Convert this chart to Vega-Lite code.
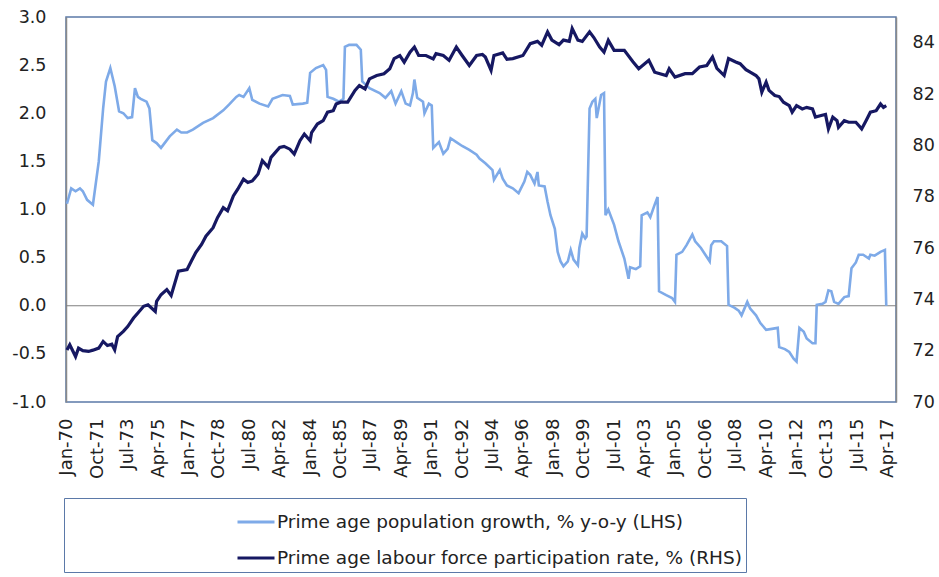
{
  "$schema": "https://vega.github.io/schema/vega-lite/v6.json",
  "width": 830,
  "height": 385,
  "autosize": {"type": "none"},
  "padding": {"left": 66, "top": 17, "right": 43, "bottom": 175},
  "background": "white",
  "config": {
    "view": {"stroke": "#5b79a8", "strokeWidth": 1.5},
    "axis": {"labelFont": "DejaVu Sans", "labelColor": "#222222", "ticks": false, "grid": false, "title": null},
    "legend": {"labelFont": "DejaVu Sans", "labelColor": "#222222"}
  },
  "datasets": {
    "pop": [
      {"date": "1970-01-01", "v": 1.06}, {"date": "1970-04-01", "v": 1.22}, {"date": "1970-07-01", "v": 1.19}, {"date": "1970-10-01", "v": 1.22},
      {"date": "1970-12-01", "v": 1.19}, {"date": "1971-03-01", "v": 1.10}, {"date": "1971-07-01", "v": 1.05}, {"date": "1971-11-01", "v": 1.50},
      {"date": "1972-02-01", "v": 2.05}, {"date": "1972-04-01", "v": 2.33}, {"date": "1972-07-01", "v": 2.47}, {"date": "1972-10-01", "v": 2.28},
      {"date": "1973-01-01", "v": 2.02}, {"date": "1973-04-01", "v": 2.00}, {"date": "1973-07-01", "v": 1.95}, {"date": "1973-10-01", "v": 1.96},
      {"date": "1973-12-01", "v": 2.26}, {"date": "1974-02-01", "v": 2.17}, {"date": "1974-04-01", "v": 2.15}, {"date": "1974-08-01", "v": 2.12},
      {"date": "1974-10-01", "v": 2.05}, {"date": "1974-12-01", "v": 1.72}, {"date": "1975-03-01", "v": 1.69}, {"date": "1975-06-01", "v": 1.64},
      {"date": "1975-09-01", "v": 1.70}, {"date": "1975-12-01", "v": 1.76}, {"date": "1976-05-01", "v": 1.83}, {"date": "1976-08-01", "v": 1.80},
      {"date": "1976-12-01", "v": 1.80}, {"date": "1977-04-01", "v": 1.83}, {"date": "1977-11-01", "v": 1.90}, {"date": "1978-06-01", "v": 1.95},
      {"date": "1979-01-01", "v": 2.03}, {"date": "1979-05-01", "v": 2.09}, {"date": "1979-10-01", "v": 2.17}, {"date": "1979-12-01", "v": 2.19},
      {"date": "1980-03-01", "v": 2.17}, {"date": "1980-07-01", "v": 2.26}, {"date": "1980-09-01", "v": 2.14}, {"date": "1981-02-01", "v": 2.10},
      {"date": "1981-08-01", "v": 2.07}, {"date": "1981-11-01", "v": 2.15}, {"date": "1982-06-01", "v": 2.19}, {"date": "1982-11-01", "v": 2.18},
      {"date": "1983-01-01", "v": 2.09}, {"date": "1983-08-01", "v": 2.10}, {"date": "1983-11-01", "v": 2.11}, {"date": "1984-01-01", "v": 2.42},
      {"date": "1984-05-01", "v": 2.47}, {"date": "1984-10-01", "v": 2.50}, {"date": "1984-12-01", "v": 2.45}, {"date": "1985-01-01", "v": 2.17},
      {"date": "1985-05-01", "v": 2.15}, {"date": "1985-09-01", "v": 2.12}, {"date": "1985-12-01", "v": 2.15}, {"date": "1986-01-01", "v": 2.69},
      {"date": "1986-04-01", "v": 2.71}, {"date": "1986-09-01", "v": 2.71}, {"date": "1986-12-01", "v": 2.66}, {"date": "1987-01-01", "v": 2.33},
      {"date": "1987-06-01", "v": 2.26}, {"date": "1988-01-01", "v": 2.21}, {"date": "1988-05-01", "v": 2.16}, {"date": "1988-09-01", "v": 2.23},
      {"date": "1988-12-01", "v": 2.10}, {"date": "1989-04-01", "v": 2.23}, {"date": "1989-07-01", "v": 2.10}, {"date": "1989-10-01", "v": 2.08},
      {"date": "1989-12-01", "v": 2.21}, {"date": "1990-01-01", "v": 2.35}, {"date": "1990-03-01", "v": 2.16}, {"date": "1990-07-01", "v": 2.12},
      {"date": "1990-08-01", "v": 2.00}, {"date": "1990-11-01", "v": 2.10}, {"date": "1991-01-01", "v": 2.08}, {"date": "1991-02-01", "v": 1.64},
      {"date": "1991-06-01", "v": 1.70}, {"date": "1991-09-01", "v": 1.58}, {"date": "1991-12-01", "v": 1.63}, {"date": "1992-02-01", "v": 1.74},
      {"date": "1992-06-01", "v": 1.70}, {"date": "1992-10-01", "v": 1.66}, {"date": "1993-03-01", "v": 1.62}, {"date": "1993-08-01", "v": 1.57},
      {"date": "1993-10-01", "v": 1.53}, {"date": "1994-02-01", "v": 1.48}, {"date": "1994-07-01", "v": 1.41}, {"date": "1994-08-01", "v": 1.31},
      {"date": "1994-12-01", "v": 1.41}, {"date": "1995-02-01", "v": 1.32}, {"date": "1995-05-01", "v": 1.25}, {"date": "1995-09-01", "v": 1.22},
      {"date": "1996-01-01", "v": 1.17}, {"date": "1996-05-01", "v": 1.29}, {"date": "1996-07-01", "v": 1.39}, {"date": "1996-09-01", "v": 1.36},
      {"date": "1996-12-01", "v": 1.27}, {"date": "1997-02-01", "v": 1.39}, {"date": "1997-03-01", "v": 1.25}, {"date": "1997-07-01", "v": 1.24},
      {"date": "1997-09-01", "v": 1.08}, {"date": "1997-11-01", "v": 0.94}, {"date": "1998-02-01", "v": 0.80}, {"date": "1998-04-01", "v": 0.56},
      {"date": "1998-06-01", "v": 0.46}, {"date": "1998-08-01", "v": 0.41}, {"date": "1998-11-01", "v": 0.46}, {"date": "1999-01-01", "v": 0.58},
      {"date": "1999-03-01", "v": 0.48}, {"date": "1999-06-01", "v": 0.42}, {"date": "1999-07-01", "v": 0.60}, {"date": "1999-09-01", "v": 0.75},
      {"date": "1999-11-01", "v": 0.70}, {"date": "1999-12-01", "v": 0.72}, {"date": "2000-02-01", "v": 2.05}, {"date": "2000-04-01", "v": 2.12},
      {"date": "2000-06-01", "v": 2.15}, {"date": "2000-07-01", "v": 1.95}, {"date": "2000-10-01", "v": 2.19}, {"date": "2000-12-01", "v": 2.21},
      {"date": "2001-01-01", "v": 0.94}, {"date": "2001-03-01", "v": 1.00}, {"date": "2001-07-01", "v": 0.84}, {"date": "2001-10-01", "v": 0.67},
      {"date": "2002-02-01", "v": 0.49}, {"date": "2002-05-01", "v": 0.28}, {"date": "2002-06-01", "v": 0.40}, {"date": "2002-10-01", "v": 0.38},
      {"date": "2003-01-01", "v": 0.41}, {"date": "2003-02-01", "v": 0.94}, {"date": "2003-06-01", "v": 0.97}, {"date": "2003-08-01", "v": 0.92},
      {"date": "2003-11-01", "v": 1.05}, {"date": "2004-01-01", "v": 1.13}, {"date": "2004-02-01", "v": 0.15}, {"date": "2004-07-01", "v": 0.11},
      {"date": "2004-11-01", "v": 0.08}, {"date": "2005-01-01", "v": 0.04}, {"date": "2005-02-01", "v": 0.53}, {"date": "2005-06-01", "v": 0.56},
      {"date": "2005-09-01", "v": 0.63}, {"date": "2006-01-01", "v": 0.74}, {"date": "2006-03-01", "v": 0.67}, {"date": "2006-07-01", "v": 0.60},
      {"date": "2006-10-01", "v": 0.53}, {"date": "2007-01-01", "v": 0.46}, {"date": "2007-02-01", "v": 0.63}, {"date": "2007-04-01", "v": 0.67},
      {"date": "2007-09-01", "v": 0.67}, {"date": "2008-01-01", "v": 0.62}, {"date": "2008-02-01", "v": 0.01}, {"date": "2008-06-01", "v": -0.02},
      {"date": "2008-09-01", "v": -0.05}, {"date": "2008-11-01", "v": -0.10}, {"date": "2009-03-01", "v": 0.04}, {"date": "2009-05-01", "v": -0.03},
      {"date": "2009-09-01", "v": -0.10}, {"date": "2009-12-01", "v": -0.18}, {"date": "2010-04-01", "v": -0.25}, {"date": "2010-08-01", "v": -0.24},
      {"date": "2010-12-01", "v": -0.23}, {"date": "2011-01-01", "v": -0.43}, {"date": "2011-05-01", "v": -0.45}, {"date": "2011-08-01", "v": -0.48},
      {"date": "2011-11-01", "v": -0.55}, {"date": "2012-01-01", "v": -0.58}, {"date": "2012-03-01", "v": -0.23}, {"date": "2012-06-01", "v": -0.27},
      {"date": "2012-08-01", "v": -0.34}, {"date": "2012-12-01", "v": -0.39}, {"date": "2013-02-01", "v": -0.39}, {"date": "2013-03-01", "v": 0.01},
      {"date": "2013-07-01", "v": 0.02}, {"date": "2013-09-01", "v": 0.04}, {"date": "2013-11-01", "v": 0.16}, {"date": "2014-01-01", "v": 0.15},
      {"date": "2014-03-01", "v": 0.04}, {"date": "2014-06-01", "v": 0.02}, {"date": "2014-10-01", "v": 0.09}, {"date": "2015-01-01", "v": 0.10},
      {"date": "2015-03-01", "v": 0.39}, {"date": "2015-06-01", "v": 0.45}, {"date": "2015-08-01", "v": 0.53}, {"date": "2015-11-01", "v": 0.53},
      {"date": "2016-03-01", "v": 0.49}, {"date": "2016-04-01", "v": 0.53}, {"date": "2016-07-01", "v": 0.52}, {"date": "2016-11-01", "v": 0.56},
      {"date": "2017-02-01", "v": 0.58}, {"date": "2017-03-01", "v": 0.00}
    ],
    "lfpr": [
      {"date": "1970-01-01", "v": 72.03}, {"date": "1970-03-01", "v": 72.23}, {"date": "1970-07-01", "v": 71.77}, {"date": "1970-09-01", "v": 72.10},
      {"date": "1970-12-01", "v": 72.00}, {"date": "1971-04-01", "v": 71.97}, {"date": "1971-07-01", "v": 72.02}, {"date": "1971-11-01", "v": 72.10},
      {"date": "1972-02-01", "v": 72.36}, {"date": "1972-05-01", "v": 72.20}, {"date": "1972-08-01", "v": 72.25}, {"date": "1972-10-01", "v": 72.03},
      {"date": "1972-12-01", "v": 72.55}, {"date": "1973-04-01", "v": 72.75}, {"date": "1973-07-01", "v": 72.94}, {"date": "1973-11-01", "v": 73.27},
      {"date": "1974-02-01", "v": 73.47}, {"date": "1974-06-01", "v": 73.73}, {"date": "1974-09-01", "v": 73.79}, {"date": "1975-02-01", "v": 73.53},
      {"date": "1975-03-01", "v": 73.92}, {"date": "1975-06-01", "v": 74.18}, {"date": "1975-10-01", "v": 74.38}, {"date": "1976-01-01", "v": 74.15},
      {"date": "1976-06-01", "v": 75.10}, {"date": "1976-12-01", "v": 75.16}, {"date": "1977-03-01", "v": 75.49}, {"date": "1977-06-01", "v": 75.82},
      {"date": "1977-10-01", "v": 76.14}, {"date": "1978-01-01", "v": 76.46}, {"date": "1978-06-01", "v": 76.79}, {"date": "1978-09-01", "v": 77.18},
      {"date": "1979-01-01", "v": 77.57}, {"date": "1979-04-01", "v": 77.45}, {"date": "1979-08-01", "v": 78.03}, {"date": "1979-11-01", "v": 78.29},
      {"date": "1980-03-01", "v": 78.68}, {"date": "1980-06-01", "v": 78.55}, {"date": "1980-09-01", "v": 78.61}, {"date": "1981-01-01", "v": 78.88},
      {"date": "1981-04-01", "v": 79.40}, {"date": "1981-08-01", "v": 79.15}, {"date": "1981-10-01", "v": 79.53}, {"date": "1982-04-01", "v": 79.92},
      {"date": "1982-07-01", "v": 79.96}, {"date": "1982-11-01", "v": 79.85}, {"date": "1983-02-01", "v": 79.66}, {"date": "1983-06-01", "v": 80.18},
      {"date": "1983-09-01", "v": 80.44}, {"date": "1984-01-01", "v": 80.18}, {"date": "1984-02-01", "v": 80.50}, {"date": "1984-06-01", "v": 80.83},
      {"date": "1984-10-01", "v": 80.96}, {"date": "1985-01-01", "v": 81.29}, {"date": "1985-05-01", "v": 81.35}, {"date": "1985-07-01", "v": 81.61},
      {"date": "1985-10-01", "v": 81.68}, {"date": "1986-03-01", "v": 81.68}, {"date": "1986-08-01", "v": 82.14}, {"date": "1986-11-01", "v": 82.33},
      {"date": "1987-03-01", "v": 82.20}, {"date": "1987-06-01", "v": 82.59}, {"date": "1987-11-01", "v": 82.72}, {"date": "1988-04-01", "v": 82.79},
      {"date": "1988-08-01", "v": 82.98}, {"date": "1988-11-01", "v": 83.38}, {"date": "1989-03-01", "v": 83.50}, {"date": "1989-06-01", "v": 83.24},
      {"date": "1989-10-01", "v": 83.63}, {"date": "1990-01-01", "v": 83.83}, {"date": "1990-04-01", "v": 83.50}, {"date": "1990-09-01", "v": 83.50},
      {"date": "1991-02-01", "v": 83.37}, {"date": "1991-04-01", "v": 83.57}, {"date": "1991-09-01", "v": 83.50}, {"date": "1992-01-01", "v": 83.31},
      {"date": "1992-06-01", "v": 83.83}, {"date": "1992-10-01", "v": 83.50}, {"date": "1993-03-01", "v": 83.11}, {"date": "1993-08-01", "v": 83.50},
      {"date": "1993-12-01", "v": 83.54}, {"date": "1994-02-01", "v": 83.44}, {"date": "1994-06-01", "v": 82.92}, {"date": "1994-08-01", "v": 83.50},
      {"date": "1995-02-01", "v": 83.60}, {"date": "1995-05-01", "v": 83.35}, {"date": "1995-09-01", "v": 83.38}, {"date": "1996-04-01", "v": 83.50},
      {"date": "1996-09-01", "v": 83.96}, {"date": "1997-02-01", "v": 84.05}, {"date": "1997-05-01", "v": 83.90}, {"date": "1997-09-01", "v": 84.42},
      {"date": "1997-12-01", "v": 84.10}, {"date": "1998-05-01", "v": 83.92}, {"date": "1998-08-01", "v": 84.10}, {"date": "1998-12-01", "v": 84.05},
      {"date": "1999-02-01", "v": 84.55}, {"date": "1999-06-01", "v": 84.10}, {"date": "1999-09-01", "v": 84.05}, {"date": "2000-02-01", "v": 84.42},
      {"date": "2000-05-01", "v": 84.20}, {"date": "2000-09-01", "v": 83.83}, {"date": "2000-12-01", "v": 83.63}, {"date": "2001-03-01", "v": 84.09},
      {"date": "2001-07-01", "v": 83.70}, {"date": "2002-02-01", "v": 83.70}, {"date": "2002-08-01", "v": 83.26}, {"date": "2002-12-01", "v": 82.98},
      {"date": "2003-07-01", "v": 83.31}, {"date": "2003-11-01", "v": 82.85}, {"date": "2004-07-01", "v": 82.72}, {"date": "2004-09-01", "v": 82.98},
      {"date": "2005-01-01", "v": 82.66}, {"date": "2005-08-01", "v": 82.79}, {"date": "2006-01-01", "v": 82.79}, {"date": "2006-06-01", "v": 83.05},
      {"date": "2006-11-01", "v": 83.11}, {"date": "2007-03-01", "v": 83.44}, {"date": "2007-06-01", "v": 83.00}, {"date": "2007-11-01", "v": 82.72},
      {"date": "2008-02-01", "v": 83.38}, {"date": "2008-07-01", "v": 83.25}, {"date": "2008-10-01", "v": 83.18}, {"date": "2009-02-01", "v": 82.95},
      {"date": "2009-05-01", "v": 82.85}, {"date": "2009-09-01", "v": 82.72}, {"date": "2009-11-01", "v": 82.59}, {"date": "2010-01-01", "v": 82.07},
      {"date": "2010-04-01", "v": 82.46}, {"date": "2010-06-01", "v": 82.14}, {"date": "2010-10-01", "v": 81.94}, {"date": "2011-01-01", "v": 81.90},
      {"date": "2011-04-01", "v": 81.68}, {"date": "2011-08-01", "v": 81.55}, {"date": "2011-10-01", "v": 81.29}, {"date": "2012-01-01", "v": 81.55},
      {"date": "2012-05-01", "v": 81.42}, {"date": "2012-08-01", "v": 81.48}, {"date": "2012-12-01", "v": 81.42}, {"date": "2013-02-01", "v": 81.10},
      {"date": "2013-06-01", "v": 81.16}, {"date": "2013-09-01", "v": 81.20}, {"date": "2013-11-01", "v": 80.64}, {"date": "2014-02-01", "v": 81.10},
      {"date": "2014-05-01", "v": 80.96}, {"date": "2014-06-01", "v": 80.70}, {"date": "2014-10-01", "v": 80.96}, {"date": "2015-01-01", "v": 80.90},
      {"date": "2015-06-01", "v": 80.90}, {"date": "2015-08-01", "v": 80.77}, {"date": "2015-10-01", "v": 80.64}, {"date": "2016-01-01", "v": 80.96},
      {"date": "2016-04-01", "v": 81.29}, {"date": "2016-08-01", "v": 81.35}, {"date": "2016-11-01", "v": 81.61}, {"date": "2017-01-01", "v": 81.48},
      {"date": "2017-03-01", "v": 81.55}
    ]
  },
  "encoding": {
    "x": {
      "field": "date",
      "type": "temporal",
      "scale": {"type": "utc", "domain": [{"year": 1969, "month": 12, "date": 12, "utc": true}, {"year": 2017, "month": 9, "date": 22, "utc": true}]},
      "axis": {
        "values": [
          {"year": 1970, "month": 1, "date": 1, "utc": true}, {"year": 1971, "month": 10, "date": 1, "utc": true}, {"year": 1973, "month": 7, "date": 1, "utc": true},
          {"year": 1975, "month": 4, "date": 1, "utc": true}, {"year": 1977, "month": 1, "date": 1, "utc": true}, {"year": 1978, "month": 10, "date": 1, "utc": true},
          {"year": 1980, "month": 7, "date": 1, "utc": true}, {"year": 1982, "month": 4, "date": 1, "utc": true}, {"year": 1984, "month": 1, "date": 1, "utc": true},
          {"year": 1985, "month": 10, "date": 1, "utc": true}, {"year": 1987, "month": 7, "date": 1, "utc": true}, {"year": 1989, "month": 4, "date": 1, "utc": true},
          {"year": 1991, "month": 1, "date": 1, "utc": true}, {"year": 1992, "month": 10, "date": 1, "utc": true}, {"year": 1994, "month": 7, "date": 1, "utc": true},
          {"year": 1996, "month": 4, "date": 1, "utc": true}, {"year": 1998, "month": 1, "date": 1, "utc": true}, {"year": 1999, "month": 10, "date": 1, "utc": true},
          {"year": 2001, "month": 7, "date": 1, "utc": true}, {"year": 2003, "month": 4, "date": 1, "utc": true}, {"year": 2005, "month": 1, "date": 1, "utc": true},
          {"year": 2006, "month": 10, "date": 1, "utc": true}, {"year": 2008, "month": 7, "date": 1, "utc": true}, {"year": 2010, "month": 4, "date": 1, "utc": true},
          {"year": 2012, "month": 1, "date": 1, "utc": true}, {"year": 2013, "month": 10, "date": 1, "utc": true}, {"year": 2015, "month": 7, "date": 1, "utc": true},
          {"year": 2017, "month": 4, "date": 1, "utc": true}
        ],
        "format": "%b-%y",
        "labelAngle": 270,
        "labelPadding": 16,
        "labelFontSize": 18,
        "labelOverlap": false,
        "labelFlush": false,
        "domain": false
      }
    }
  },
  "layer": [
    {
      "layer": [
        {
          "data": {"values": [{"z": 0}]},
          "mark": {"type": "rule", "color": "#7f7f7f", "strokeWidth": 1},
          "encoding": {"y": {"field": "z", "type": "quantitative"}, "x": null}
        },
        {
          "data": {"name": "pop"},
          "mark": {"type": "line", "strokeWidth": 2.6, "interpolate": "linear"},
          "encoding": {
            "y": {"field": "v", "type": "quantitative"},
            "color": {"datum": "Prime age population growth, % y-o-y (LHS)"}
          }
        }
      ],
      "encoding": {
        "y": {
          "field": "v",
          "type": "quantitative",
          "scale": {"domain": [-1, 3], "nice": false, "zero": false},
          "axis": {
            "orient": "left",
            "values": [-1, -0.5, 0, 0.5, 1, 1.5, 2, 2.5, 3],
            "labelExpr": "datum.value < 0 ? '-' + format(-datum.value, '.1f') : format(datum.value, '.1f')",
            "labelPadding": 20,
            "labelFontSize": 17.5,
            "domainColor": "#8a8a8a",
            "domainWidth": 1.5
          }
        }
      }
    },
    {
      "data": {"name": "lfpr"},
      "mark": {"type": "line", "strokeWidth": 3.2, "interpolate": "linear"},
      "encoding": {
        "y": {
          "field": "v",
          "type": "quantitative",
          "scale": {"domain": [70, 85], "nice": false, "zero": false},
          "axis": {
            "orient": "right",
            "values": [70, 72, 74, 76, 78, 80, 82, 84],
            "labelPadding": 16,
            "labelFontSize": 17.5,
            "domainColor": "#8a8a8a",
            "domainWidth": 1.5
          }
        },
        "color": {
          "datum": "Prime age labour force participation rate, % (RHS)",
          "scale": {
            "domain": ["Prime age population growth, % y-o-y (LHS)", "Prime age labour force participation rate, % (RHS)"],
            "range": ["#7eaae8", "#161862"]
          },
          "legend": {
            "title": null,
            "orient": "none",
            "legendX": -2,
            "legendY": 481,
            "direction": "vertical",
            "symbolType": "stroke",
            "symbolSize": 1369,
            "symbolStrokeWidth": 3,
            "symbolOffset": 168,
            "labelOffset": 1,
            "labelFontSize": 18.5,
            "labelLimit": 1000,
            "rowPadding": 6,
            "padding": 4,
            "strokeColor": "#5b79a8"
          }
        }
      }
    }
  ],
  "resolve": {"scale": {"y": "independent"}}
}
